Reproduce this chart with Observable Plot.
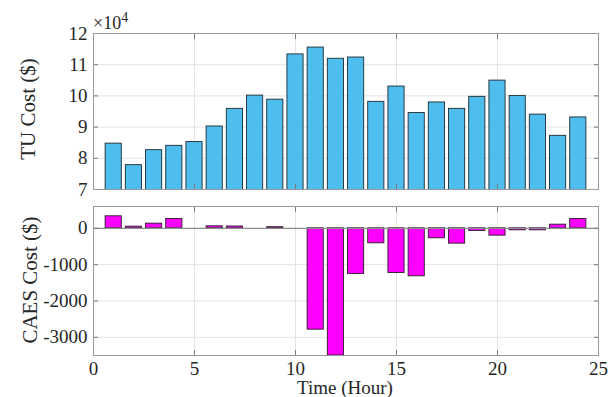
<!DOCTYPE html>
<html><head><meta charset="utf-8">
<script src="https://cdn.jsdelivr.net/npm/d3@7"></script>
<script src="https://cdn.jsdelivr.net/npm/@observablehq/plot@0.6"></script>
<style>
body{margin:0;background:#fff;}
#wrap{position:relative;width:609px;height:397px;overflow:hidden;font-family:"Liberation Serif","Times New Roman",serif;color:#262626;}
#topChart,#botChart{position:absolute;left:0;}
#topChart{top:0;}
#botChart{top:190px;}
#exp{position:absolute;left:93px;top:14px;font-size:18px;line-height:18px;white-space:nowrap;}
#exp sup{font-size:14px;vertical-align:7px;line-height:0;}
.ylab{position:absolute;font-size:21px;line-height:21px;white-space:nowrap;transform:translate(-50%,-50%) rotate(-90deg);}
#xlab{position:absolute;left:345px;top:379px;font-size:19px;line-height:18px;white-space:nowrap;transform:translateX(-50%);}
</style></head><body>
<div id="wrap">
  <div id="topChart"></div><div id="botChart"></div>
  <div id="exp">×10<sup>4</sup></div>
  <div class="ylab" style="left:28px;top:109px;">TU Cost ($)</div>
  <div class="ylab" style="left:30px;top:280px;">CAES Cost ($)</div>
  <div id="xlab">Time (Hour)</div>
</div>
<script>
const hours = [1,2,3,4,5,6,7,8,9,10,11,12,13,14,15,16,17,18,19,20,21,22,23,24];
const tuCost = [84700,77800,82600,84000,85200,90200,95850,100100,98800,113300,115500,111900,
                112300,98100,103000,94500,97900,95850,99700,104900,100000,94000,87200,93100];
const caesCost = [330,45,128,257,0,55,50,0,30,0,-2789,-3500,
                  -1257,-413,-1229,-1321,-275,-422,-73,-202,-55,-55,100,257];
const xTicks = [0,5,10,15,20,25];
const tuTicks = [70000,80000,90000,100000,110000,120000];
const caesTicks = [-3000,-2000,-1000,0];

const tuData = hours.map((h,i)=>({h, v: tuCost[i]}));
const caesData = hours.map((h,i)=>({h, v: caesCost[i]}));
const font = "'Liberation Serif','Times New Roman',serif";
const gridColor = "#e4e4e4";
const tickColor = "#7a7a7a";
const blank = () => "";

const topPlot = Plot.plot({
  width: 609, height: 200,
  marginLeft: 93, marginRight: 11, marginTop: 33, marginBottom: 11,
  style: {fontFamily: font, fontSize: "19px", color: "#262626", background: "transparent", overflow: "visible"},
  x: {domain: [0,25], label: null},
  y: {domain: [70000,120000], label: null},
  marks: [
    Plot.ruleX(xTicks.slice(1,-1), {stroke: gridColor, strokeOpacity: 1}),
    Plot.ruleY(tuTicks.slice(1,-1), {stroke: gridColor, strokeOpacity: 1}),
    Plot.rectY(tuData, {x1: d => d.h - 0.4, x2: d => d.h + 0.4, y1: 0, y2: "v",
      fill: "#4DBEEE", stroke: "#1f2a30", strokeWidth: 0.9, clip: true}),
    Plot.axisY({anchor: "left", ticks: tuTicks, tickFormat: d => d/1e4, tickSize: -5, tickPadding: 11, label: null, stroke: tickColor, fill: "#262626"}),
    Plot.axisY({anchor: "right", ticks: tuTicks, tickFormat: blank, tickSize: -5, label: null, stroke: tickColor}),
    Plot.axisX({anchor: "bottom", ticks: xTicks, tickFormat: blank, tickSize: -5, label: null, stroke: tickColor}),
    Plot.axisX({anchor: "top", ticks: xTicks, tickFormat: blank, tickSize: -5, label: null, stroke: tickColor}),
    Plot.frame({stroke: "#9a9a9a"})
  ]
});
document.getElementById("topChart").appendChild(topPlot);

const botPlot = Plot.plot({
  width: 609, height: 207,
  marginLeft: 93, marginRight: 11, marginTop: 16, marginBottom: 42,
  style: {fontFamily: font, fontSize: "19px", color: "#262626", background: "transparent", overflow: "visible"},
  x: {domain: [0,25], label: null},
  y: {domain: [-3500,600], label: null},
  marks: [
    Plot.ruleX(xTicks.slice(1,-1), {stroke: gridColor, strokeOpacity: 1}),
    Plot.ruleY(caesTicks.slice(0,-1), {stroke: gridColor, strokeOpacity: 1}),
    Plot.rectY(caesData, {x1: d => d.h - 0.4, x2: d => d.h + 0.4, y1: 0, y2: "v",
      fill: "#FF00FF", stroke: "#2a1a2a", strokeWidth: 0.9, clip: true}),
    Plot.ruleY([0], {stroke: "#8c8c8c", strokeWidth: 1.2}),
    Plot.axisY({anchor: "left", ticks: caesTicks, tickFormat: d => String(d), tickSize: -5, tickPadding: 11, label: null, stroke: tickColor, fill: "#262626"}),
    Plot.axisY({anchor: "right", ticks: caesTicks, tickFormat: blank, tickSize: -5, label: null, stroke: tickColor}),
    Plot.axisX({anchor: "bottom", ticks: xTicks, tickFormat: d => String(d), tickSize: -5, tickPadding: 11, label: null, stroke: tickColor, fill: "#262626"}),
    Plot.axisX({anchor: "top", ticks: xTicks, tickFormat: blank, tickSize: -5, label: null, stroke: tickColor}),
    Plot.frame({stroke: "#9a9a9a"})
  ]
});
document.getElementById("botChart").appendChild(botPlot);
</script>
</body></html>
